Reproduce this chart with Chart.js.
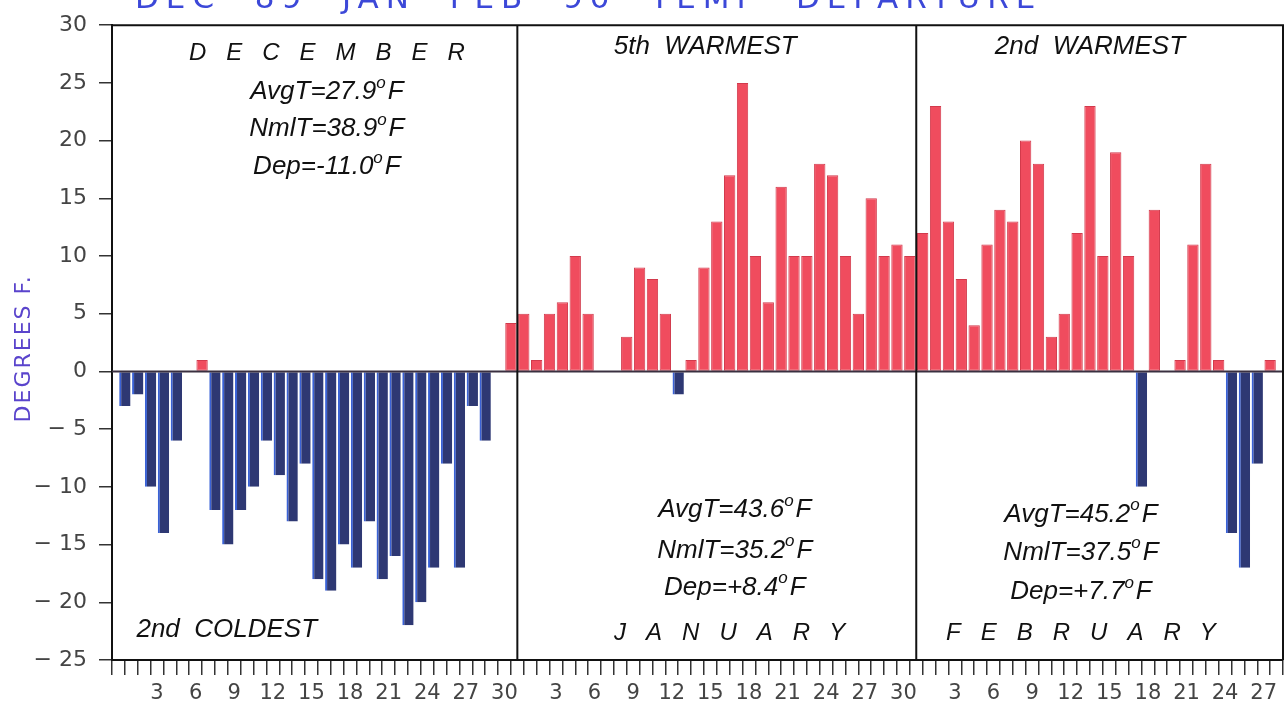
<!DOCTYPE html>
<html>
<head>
<meta charset="utf-8">
<script src="https://cdn.jsdelivr.net/npm/chart.js@4.4.1/dist/chart.umd.min.js"></script>
<style>
  html, body { margin: 0; padding: 0; background: #fff; }
  #wrap { width: 1286px; height: 712px; }
</style>
</head>
<body>
<div id="wrap"><canvas id="c"></canvas></div>
<script>
// daily departures from normal, deg F
const decDep = [-3, -2, -10, -14, -6, 0, 1, -12, -15, -12, -10, -6, -9, -13, -8, -18, -19, -15, -17, -13, -18, -16, -22, -20, -17, -8, -17, -3, -6, 0, 4.2];
const janDep = [5, 1, 5, 6, 10, 5, 0, 0, 3, 9, 8, 5, -2, 1, 9, 13, 17, 25, 10, 6, 16, 10, 10, 18, 17, 10, 5, 15, 10, 11, 10];
const febDep = [12, 23, 13, 8, 4, 11, 14, 13, 20, 18, 3, 5, 12, 23, 10, 19, 10, -10, 14, 0, 1, 11, 18, 1, -14, -17, -8, 1];

const monthDays = [31, 31, 28];
const monthNames = ['DECEMBER', 'JANUARY', 'FEBRUARY'];
const rankLabels = ['2nd  COLDEST', '5th  WARMEST', '2nd  WARMEST'];
const avgT = ['27.9', '43.6', '45.2'];
const nmlT = ['38.9', '35.2', '37.5'];
const depT = ['-11.0', '+8.4', '+7.7'];
const title = 'DEC  89  JAN  FEB  90  TEMP  DEPARTURE';
const yTitle = 'DEGREES F.';

const allDep = [...decDep, ...janDep, ...febDep];
const points = allDep.map((v, i) => ({ x: i + 0.5, y: v }));

const RED = '#f04c5e';
const BLUE = '#2e3873';

const FONT_I = '"Liberation Sans", Arial, sans-serif';
const FONT_T = '"DejaVu Sans", sans-serif';

function degLine(ctx, txt, cx, cy) {
  const big = 'italic 26px ' + FONT_I;
  const small = 'italic 17px ' + FONT_I;
  ctx.font = big;
  const w1 = ctx.measureText(txt).width;
  const w3 = ctx.measureText('F').width;
  ctx.font = small;
  const w2 = ctx.measureText('o').width;
  let xx = cx - (w1 + w2 + w3 + 2) / 2;
  ctx.textAlign = 'left';
  ctx.textBaseline = 'middle';
  ctx.font = big; ctx.fillText(txt, xx, cy); xx += w1;
  ctx.font = small; ctx.fillText('o', xx, cy - 9); xx += w2 + 2;
  ctx.font = big; ctx.fillText('F', xx, cy);
}

function spaced(ctx, txt, cx, cy, gap) {
  ctx.letterSpacing = gap + 'px';
  const w = ctx.measureText(txt).width;
  ctx.textAlign = 'left';
  ctx.textBaseline = 'middle';
  ctx.fillText(txt, cx - (w - gap) / 2, cy);
  ctx.letterSpacing = '0px';
}

// where the annotations sit, in axis units
const layout = [
  { name: [16.2, 27.6], rank: [1.4, -22.4, 'left'], stats: [16.2, [24.2, 21.0, 17.7]] },
  { name: [47.5, -22.7], rank: [45.6, 28.1, 'center'], stats: [47.9, [-12.0, -15.5, -18.7]] },
  { name: [74.8, -22.7], rank: [75.5, 28.1, 'center'], stats: [74.8, [-12.4, -15.7, -19.1]] }
];

const panels = {
  id: 'panels',
  afterDatasetsDraw(chart) {
    const { ctx, chartArea: a, scales: { x, y } } = chart;
    ctx.save();
    const y0 = y.getPixelForValue(0);
    ctx.strokeStyle = '#3a3040';
    ctx.lineWidth = 2;
    ctx.beginPath(); ctx.moveTo(a.left, y0); ctx.lineTo(a.right, y0); ctx.stroke();

    ctx.strokeStyle = '#111';
    ctx.lineWidth = 2;
    ctx.beginPath();
    ctx.moveTo(a.left, a.top); ctx.lineTo(a.right, a.top); ctx.lineTo(a.right, a.bottom);
    let cum = 0;
    monthDays.slice(0, -1).forEach(d => {
      cum += d;
      const px = x.getPixelForValue(cum);
      ctx.moveTo(px, a.top); ctx.lineTo(px, a.bottom);
    });
    ctx.stroke();

    ctx.fillStyle = '#111';
    layout.forEach((l, i) => {
      ctx.font = 'italic 24px ' + FONT_I;
      spaced(ctx, monthNames[i], x.getPixelForValue(l.name[0]), y.getPixelForValue(l.name[1]), 20);

      ctx.font = 'italic 26px ' + FONT_I;
      ctx.textAlign = l.rank[2];
      ctx.textBaseline = 'middle';
      ctx.fillText(rankLabels[i], x.getPixelForValue(l.rank[0]), y.getPixelForValue(l.rank[1]));

      const sx = x.getPixelForValue(l.stats[0]);
      const lines = ['AvgT=' + avgT[i], 'NmlT=' + nmlT[i], 'Dep=' + depT[i]];
      lines.forEach((t, k) => degLine(ctx, t, sx, y.getPixelForValue(l.stats[1][k])));
    });
    ctx.restore();
  },
  afterDraw(chart) {
    const { ctx, scales: { y } } = chart;
    ctx.save();
    ctx.fillStyle = '#3c48d8';
    ctx.font = '31px ' + FONT_T;
    ctx.letterSpacing = '7px';
    ctx.textAlign = 'left';
    ctx.textBaseline = 'alphabetic';
    ctx.fillText(title, 135, 8);

    ctx.fillStyle = '#5a44cc';
    ctx.font = '22px ' + FONT_T;
    ctx.letterSpacing = '2px';
    ctx.translate(24, y.getPixelForValue(2));
    ctx.rotate(-Math.PI / 2);
    ctx.textAlign = 'center';
    ctx.textBaseline = 'middle';
    ctx.fillText(yTitle, 0, 0);
    ctx.restore();
  }
};

function dayLabel(v) {
  let d = v;
  for (const n of monthDays) {
    if (d <= n) break;
    d -= n;
  }
  return (d > 0 && d % 3 === 0) ? String(d) : '';
}

new Chart(document.getElementById('c'), {
  type: 'bar',
  data: {
    datasets: [{
      data: points,
      backgroundColor: c => c.parsed.y >= 0 ? RED : BLUE,
      borderColor: c => c.parsed.y >= 0 ? '#d23a4c' : '#3a62d6',
      borderWidth: c => c.parsed.y >= 0 ? 1 : { left: 2, right: 0, top: 0, bottom: 0 },
      borderSkipped: false,
      barPercentage: 0.88,
      categoryPercentage: 1
    }]
  },
  options: {
    responsive: true,
    maintainAspectRatio: false,
    animation: false,
    layout: { padding: { top: 21, right: 3, left: 0, bottom: 0 } },
    plugins: {
      legend: { display: false },
      tooltip: { enabled: false }
    },
    scales: {
      x: {
        type: 'linear',
        min: 0,
        max: monthDays.reduce((s, d) => s + d, 0),
        afterFit(s) { s.height = 52; },
        border: { display: true, color: '#111', width: 2 },
        grid: { drawOnChartArea: false, drawTicks: true, tickLength: 15, tickColor: '#333', lineWidth: 1.5 },
        ticks: {
          stepSize: 1,
          autoSkip: false,
          maxRotation: 0,
          padding: 6,
          color: '#444',
          font: { family: 'DejaVu Sans', size: 21 },
          callback: dayLabel
        }
      },
      y: {
        min: -25,
        max: 30,
        afterFit(s) { s.width = 112; },
        border: { display: true, color: '#111', width: 2 },
        grid: { drawOnChartArea: false, drawTicks: true, tickLength: 13, tickColor: '#333', lineWidth: 1.5 },
        ticks: {
          stepSize: 5,
          padding: 12,
          color: '#444',
          font: { family: 'DejaVu Sans', size: 22 },
          callback: v => (v < 0 ? '\u2212 ' + Math.abs(v) : String(v))
        }
      }
    }
  },
  plugins: [panels]
});
</script>
</body>
</html>
